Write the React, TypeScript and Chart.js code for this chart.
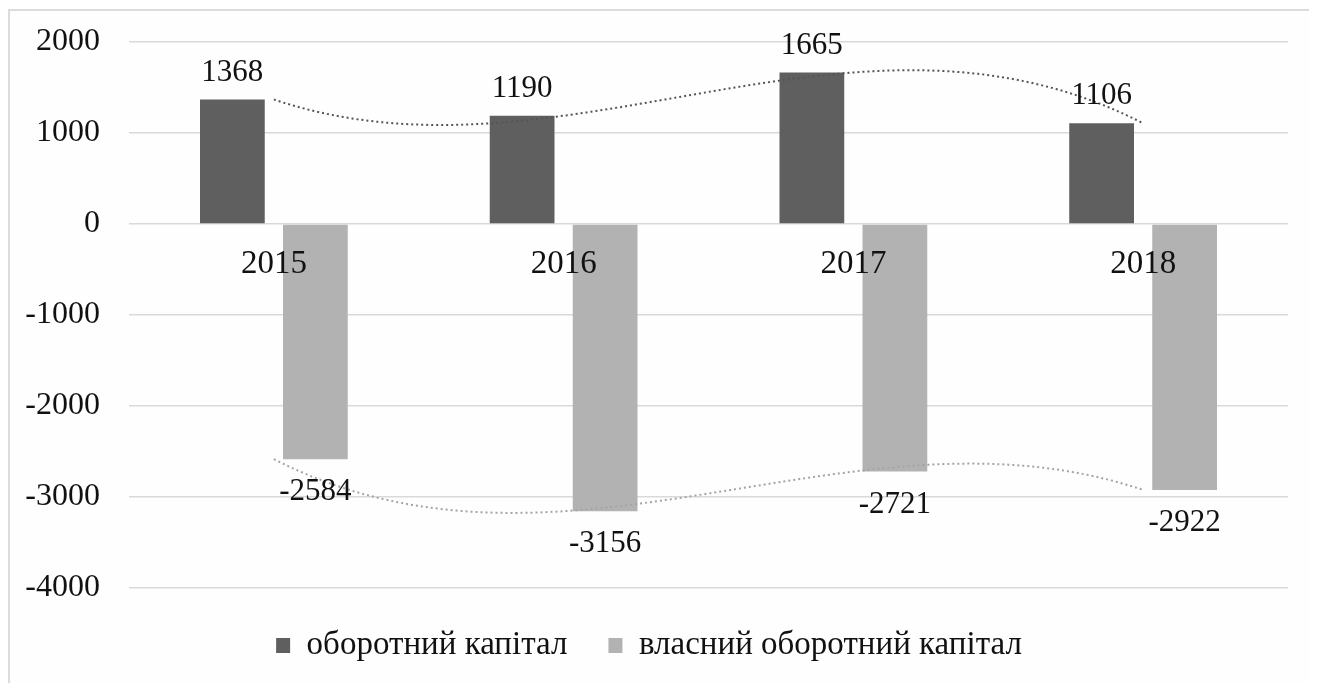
import { useEffect, useRef } from "react";
import { Chart, registerables } from "chart.js";

Chart.register(...registerables);

// Categories and series
const years = ["2015", "2016", "2017", "2018"];
const workingCapital = [1368, 1190, 1665, 1106];
const ownWorkingCapital = [-2584, -3156, -2721, -2922];
const seriesNames = ["оборотний капітал", "власний оборотний капітал"];

// Value axis
const yMin = -4000;
const yMax = 2000;
const yStep = 1000;

const FONT = "'Liberation Serif', 'Times New Roman', serif";
const barColors = ["#5f5f5f", "#b2b2b2"];
const trendColors = ["#555555", "#a4a4a4"];

// Polynomial (order n-1) trend through the series values, evaluated at t
function polyTrend(vals: number[], t: number): number {
  let sum = 0;
  for (let i = 0; i < vals.length; i++) {
    let term = vals[i];
    for (let j = 0; j < vals.length; j++) {
      if (j !== i) term *= (t - j) / (i - j);
    }
    sum += term;
  }
  return sum;
}

const trendAndLabels = {
  id: "trendAndLabels",
  afterDatasetsDraw(chart: any) {
    const { ctx } = chart;
    const xs = chart.scales.x;
    const ys = chart.scales.y;

    // dotted trend lines
    chart.data.datasets.forEach((ds: any, i: number) => {
      const vals = ds.data as number[];
      const n = vals.length;
      const steps = 200;
      ctx.save();
      ctx.beginPath();
      ctx.setLineDash([2, 3]);
      ctx.lineWidth = 2;
      ctx.strokeStyle = trendColors[i];
      for (let s = 0; s <= steps; s++) {
        const t = ((n - 1) * s) / steps;
        const px = xs.getPixelForValue(t);
        const py = ys.getPixelForValue(polyTrend(vals, t));
        if (s === 0) ctx.moveTo(px, py);
        else ctx.lineTo(px, py);
      }
      ctx.stroke();
      ctx.restore();
    });

    // value labels
    ctx.save();
    ctx.font = `31px ${FONT}`;
    ctx.fillStyle = "#111";
    ctx.textAlign = "center";
    ctx.textBaseline = "middle";
    chart.data.datasets.forEach((ds: any, i: number) => {
      const meta = chart.getDatasetMeta(i);
      meta.data.forEach((bar: any, j: number) => {
        const v = ds.data[j] as number;
        const y = v >= 0 ? bar.y - 27 : bar.y + 33;
        ctx.fillText(String(v), bar.x, y);
      });
    });
    ctx.restore();
  },
};

export default function App() {
  const canvasRef = useRef<HTMLCanvasElement | null>(null);

  useEffect(() => {
    if (!canvasRef.current) return;
    const chart = new Chart(canvasRef.current, {
      type: "bar",
      data: {
        labels: years,
        datasets: [
          {
            label: seriesNames[0],
            data: workingCapital,
            backgroundColor: barColors[0],
            borderWidth: 0,
          },
          {
            label: seriesNames[1],
            data: ownWorkingCapital,
            backgroundColor: barColors[1],
            borderWidth: 0,
          },
        ],
      },
      options: {
        responsive: false,
        animation: false,
        datasets: {
          bar: { categoryPercentage: 0.573, barPercentage: 0.78 },
        },
        layout: { padding: { top: 31, right: 23, bottom: 11, left: 0 } },
        scales: {
          x: {
            position: { y: 0 } as any,
            grid: { display: false },
            border: { display: false },
            ticks: {
              z: 1,
              padding: 13,
              color: "#111",
              font: { family: FONT, size: 33 },
            },
          },
          y: {
            min: yMin,
            max: yMax,
            grid: { color: "#d9d9d9", lineWidth: 1.5, drawTicks: false },
            border: { display: false },
            ticks: {
              stepSize: yStep,
              padding: 29,
              color: "#111",
              font: { family: FONT, size: 32 },
              callback: (v: any) => String(v),
            },
            afterFit(scale: any) {
              scale.width = 119;
              scale.paddingTop = 0;
              scale.paddingBottom = 0;
            },
          },
        },
        plugins: {
          legend: {
            position: "bottom",
            labels: {
              boxWidth: 14,
              boxHeight: 15,
              padding: 41,
              color: "#111",
              font: { family: FONT, size: 33 },
            },
          },
          tooltip: { enabled: false },
        },
      },
      plugins: [trendAndLabels],
    });
    return () => chart.destroy();
  }, []);

  return (
    <div
      style={{
        marginTop: 1,
        width: 1305,
        height: 674,
        boxSizing: "border-box",
        borderStyle: "solid",
        borderColor: "#dcdcdc",
        borderWidth: "2px 2px 0 2px",
        background: "#fefefe",
      }}
    >
      <canvas ref={canvasRef} width={1301} height={672} style={{ display: "block" }} />
    </div>
  );
}
